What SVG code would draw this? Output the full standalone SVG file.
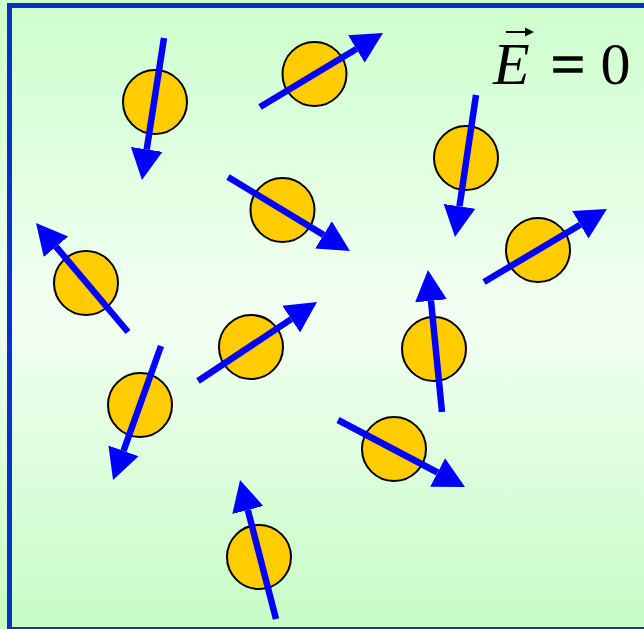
<svg xmlns="http://www.w3.org/2000/svg" width="644" height="629" viewBox="0 0 644 629">
<defs>
<linearGradient id="bg" x1="0" y1="0" x2="0" y2="1">
<stop offset="0" stop-color="#CCFFCC"/>
<stop offset="0.5" stop-color="#F3FFF3"/>
<stop offset="1" stop-color="#C6FCC6"/>
</linearGradient>
<marker id="ah" markerUnits="userSpaceOnUse" markerWidth="33" markerHeight="34" viewBox="0 -17 33 34" refX="0" refY="0" orient="auto">
<path d="M0,-16 L31,0 L0,16 Z" fill="#0000FF"/>
</marker>
</defs>
<style>
.m circle{fill:#FFCC00;stroke:#000;stroke-width:2}
.m line{stroke:#0000FF;stroke-width:6.5;marker-end:url(#ah)}
.lbl{font-family:"Liberation Serif","Times New Roman",serif;font-size:60px;fill:#000}
</style>
<rect x="0" y="0" width="644" height="629" fill="url(#bg)"/>
<rect x="9.5" y="5.5" width="660" height="624" fill="none" stroke="#0A32C8" stroke-width="5"/>
<g id="label">
<text class="lbl" x="493" y="83.5" font-style="italic">E</text>
<text class="lbl" x="551" y="83.5" stroke="#000" stroke-width="1.6">=</text>
<text class="lbl" x="600.5" y="83.5">0</text>
<line x1="506" y1="32" x2="529" y2="32" stroke="#000" stroke-width="2"/>
<path d="M525,27.5 L534,32 L525,36.5 Z" fill="#000"/>
</g>
<g id="dipole1" class="m"><circle cx="155" cy="102" r="32"/><line x1="164" y1="38" x2="146.7" y2="149.4"/></g>
<g id="dipole2" class="m"><circle cx="314.5" cy="74" r="32"/><line x1="260" y1="107" x2="356.4" y2="49"/></g>
<g id="dipole3" class="m"><circle cx="466" cy="158" r="32"/><line x1="476" y1="95" x2="459.5" y2="206.3"/></g>
<g id="dipole4" class="m"><circle cx="282.5" cy="210" r="32"/><line x1="228" y1="177" x2="323.5" y2="234.9"/></g>
<g id="dipole5" class="m"><circle cx="538" cy="250" r="32"/><line x1="484" y1="282" x2="580.3" y2="224.8"/></g>
<g id="dipole6" class="m"><circle cx="86" cy="283" r="32"/><line x1="128" y1="332" x2="56" y2="246.7"/></g>
<g id="dipole7" class="m"><circle cx="251" cy="347" r="32"/><line x1="198" y1="381" x2="291.2" y2="319.1"/></g>
<g id="dipole8" class="m"><circle cx="434" cy="349" r="32"/><line x1="442" y1="412" x2="431" y2="300.8"/></g>
<g id="dipole9" class="m"><circle cx="140" cy="405" r="32"/><line x1="161" y1="346" x2="123.5" y2="450.8"/></g>
<g id="dipole10" class="m"><circle cx="394" cy="449" r="32"/><line x1="338" y1="420" x2="437.6" y2="472.5"/></g>
<g id="dipole11" class="m"><circle cx="259" cy="557" r="32"/><line x1="276" y1="619" x2="247.8" y2="510"/></g>
</svg>
